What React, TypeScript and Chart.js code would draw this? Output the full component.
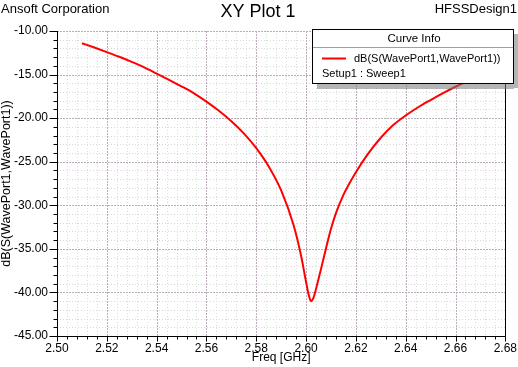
import React, { useEffect, useRef } from 'react';
import { Chart, registerables } from 'chart.js';

Chart.register(...registerables);

// ---- data ----
const freqGHz = [
  2.510, 2.515, 2.520, 2.525, 2.530, 2.535, 2.540, 2.545, 2.550, 2.555,
  2.560, 2.565, 2.570, 2.575, 2.580, 2.585, 2.590, 2.595, 2.598, 2.600,
  2.601, 2.602, 2.603, 2.604, 2.606, 2.608, 2.610, 2.612, 2.615, 2.620,
  2.625, 2.630, 2.635, 2.640, 2.645, 2.650, 2.655, 2.660, 2.665, 2.670,
];
const dbS11 = [
  -11.4, -11.9, -12.42, -12.96, -13.55, -14.18, -14.88, -15.6, -16.35, -17.15,
  -18.1, -19.15, -20.35, -21.75, -23.45, -25.55, -28.3, -32.3, -35.8, -38.8,
  -40.2, -41.0, -40.6, -39.6, -37.3, -34.95, -32.7, -30.9, -28.8, -26.2,
  -24.05, -22.25, -20.8, -19.7, -18.75, -17.92, -17.13, -16.4, -15.72, -15.08,
];

const xMajorLabels = ['2.50', '2.52', '2.54', '2.56', '2.58', '2.60', '2.62', '2.64', '2.66', '2.68'];
const yMajorLabels = ['-45.00', '-40.00', '-35.00', '-30.00', '-25.00', '-20.00', '-15.00', '-10.00'];
const xMin = 2.5;
const xMax = 2.68;
const yMin = -45;
const yMax = -10;
const xMinorStep = 0.004;
const yMinorStep = 1;
const minorPerMajor = 5;

const seriesName = 'dB(S(WavePort1,WavePort1))';
const setupName = 'Setup1 : Sweep1';
const xTitle = 'Freq [GHz]';
const yTitle = 'dB(S(WavePort1,WavePort1))';
const titleLeft = 'Ansoft Corporation';
const titleCenter = 'XY Plot 1';
const titleRight = 'HFSSDesign1';

const FONT = '"Liberation Sans", Arial, sans-serif';

const hfssPlugin = {
  id: 'hfssDecor',
  beforeDatasetsDraw(chart: any) {
    const { ctx, chartArea: a, scales } = chart;
    const x = scales.x;
    const y = scales.y;
    ctx.save();
    ctx.lineWidth = 1;
    const vline = (px: number, color: string, dash: number[]) => {
      ctx.strokeStyle = color;
      ctx.setLineDash(dash);
      ctx.beginPath();
      ctx.moveTo(px, a.top);
      ctx.lineTo(px, a.bottom);
      ctx.stroke();
    };
    const hline = (py: number, color: string, dash: number[]) => {
      ctx.strokeStyle = color;
      ctx.setLineDash(dash);
      ctx.beginPath();
      ctx.moveTo(a.left, py);
      ctx.lineTo(a.right, py);
      ctx.stroke();
    };
    // minor grid
    x.ticks.forEach((t: any, i: number) => {
      if (i % minorPerMajor !== 0) vline(Math.round(x.getPixelForValue(t.value)) + 0.5, 'rgb(214,224,214)', [1, 2]);
    });
    y.ticks.forEach((t: any, i: number) => {
      if (i % minorPerMajor !== 0) hline(Math.round(y.getPixelForValue(t.value)) + 0.5, 'rgb(224,212,224)', [1, 2]);
    });
    // major grid
    x.ticks.forEach((t: any, i: number) => {
      if (i % minorPerMajor === 0) vline(Math.round(x.getPixelForValue(t.value)) + 0.5, 'rgb(186,174,186)', [2, 1]);
    });
    y.ticks.forEach((t: any, i: number) => {
      if (i % minorPerMajor === 0) hline(Math.round(y.getPixelForValue(t.value)) + 0.5, 'rgb(186,174,186)', [2, 1]);
    });
    // axes frame (left, bottom, right)
    ctx.setLineDash([]);
    ctx.strokeStyle = '#000';
    const L = Math.round(a.left) + 0.5;
    const R = Math.round(a.right) + 0.5;
    const B = Math.round(a.bottom) + 0.5;
    const T = Math.round(a.top);
    ctx.beginPath();
    ctx.moveTo(L, T);
    ctx.lineTo(L, B);
    ctx.lineTo(R, B);
    ctx.lineTo(R, T);
    ctx.stroke();
    // tick marks
    ctx.beginPath();
    y.ticks.forEach((t: any, i: number) => {
      const py = Math.round(y.getPixelForValue(t.value)) + 0.5;
      const len = i % minorPerMajor === 0 ? 8 : 4;
      ctx.moveTo(L - len, py);
      ctx.lineTo(L, py);
    });
    x.ticks.forEach((t: any, i: number) => {
      const px = Math.round(x.getPixelForValue(t.value)) + 0.5;
      const len = i % minorPerMajor === 0 ? 5 : 3;
      ctx.moveTo(px, B);
      ctx.lineTo(px, B + len);
    });
    ctx.stroke();
    ctx.restore();
  },
  afterDraw(chart: any) {
    const { ctx, chartArea: a } = chart;
    ctx.save();
    ctx.fillStyle = '#000';
    // header
    ctx.textBaseline = 'alphabetic';
    ctx.font = `13px ${FONT}`;
    ctx.textAlign = 'left';
    ctx.fillText(titleLeft, 1, 12.5);
    ctx.textAlign = 'right';
    ctx.fillText(titleRight, 517, 12.5);
    ctx.font = `18px ${FONT}`;
    ctx.textAlign = 'center';
    ctx.fillText(titleCenter, 258, 16.5);
    // axis titles
    ctx.font = `12px ${FONT}`;
    ctx.textBaseline = 'middle';
    ctx.fillText(xTitle, (a.left + a.right) / 2, 358);
    ctx.save();
    ctx.translate(7, (a.top + a.bottom) / 2);
    ctx.rotate(-Math.PI / 2);
    ctx.font = `12.5px ${FONT}`;
    ctx.fillText(yTitle, 0, 0);
    ctx.restore();
    // legend
    const bx = 312, by = 29, bw = 201, bh = 54;
    ctx.fillStyle = 'rgba(120,120,120,0.55)';
    ctx.fillRect(bx + bw + 1, by + 5, 5, bh);
    ctx.fillRect(bx + 5, by + bh + 1, bw - 4, 5);
    ctx.fillStyle = '#fff';
    ctx.fillRect(bx, by, bw, bh);
    ctx.strokeStyle = '#000';
    ctx.lineWidth = 1;
    ctx.strokeRect(bx + 0.5, by + 0.5, bw, bh);
    ctx.strokeStyle = 'rgb(160,160,160)';
    ctx.beginPath();
    ctx.moveTo(bx + 1, 47.5);
    ctx.lineTo(bx + bw, 47.5);
    ctx.stroke();
    ctx.fillStyle = '#000';
    ctx.font = `11.5px ${FONT}`;
    ctx.textAlign = 'center';
    ctx.fillText('Curve Info', 414, 39);
    ctx.strokeStyle = '#ff0000';
    ctx.lineWidth = 2;
    ctx.beginPath();
    ctx.moveTo(322, 58.5);
    ctx.lineTo(346, 58.5);
    ctx.stroke();
    ctx.font = `11px ${FONT}`;
    ctx.textAlign = 'left';
    ctx.fillText(seriesName, 354, 58.5);
    ctx.fillText(setupName, 322, 74);
    ctx.restore();
  },
};

export default function App() {
  const canvasRef = useRef<HTMLCanvasElement | null>(null);

  useEffect(() => {
    document.body.style.margin = '0';
    const canvas = canvasRef.current;
    if (!canvas) return;
    const points = freqGHz.map((f, i) => ({ x: f, y: dbS11[i] }));
    const chart = new Chart(canvas, {
      type: 'line',
      data: {
        datasets: [
          {
            label: seriesName,
            data: points,
            borderColor: '#ff0000',
            borderWidth: 2,
            pointRadius: 0,
            fill: false,
            cubicInterpolationMode: 'monotone',
          },
        ],
      },
      options: {
        responsive: false,
        animation: false,
        devicePixelRatio: 1,
        layout: { padding: { top: 31, right: 11, left: 0, bottom: 0 } },
        plugins: { legend: { display: false }, tooltip: { enabled: false }, title: { display: false } },
        scales: {
          x: {
            type: 'linear',
            min: xMin,
            max: xMax,
            afterBuildTicks: (scale: any) => {
              const n = Math.round((xMax - xMin) / xMinorStep);
              const ticks = [];
              for (let i = 0; i <= n; i++) ticks.push({ value: xMin + i * xMinorStep });
              scale.ticks = ticks;
            },
            afterFit: (scale: any) => {
              scale.height = 31;
            },
            grid: { display: false, drawTicks: true, tickLength: 4 },
            border: { display: false },
            ticks: {
              autoSkip: false,
              maxRotation: 0,
              padding: 1,
              color: '#000',
              font: { family: FONT, size: 12 },
              callback: (_v: any, i: number) => (i % minorPerMajor === 0 ? xMajorLabels[i / minorPerMajor] : ''),
            },
          },
          y: {
            type: 'linear',
            min: yMin,
            max: yMax,
            afterBuildTicks: (scale: any) => {
              const n = Math.round((yMax - yMin) / yMinorStep);
              const ticks = [];
              for (let i = 0; i <= n; i++) ticks.push({ value: yMin + i * yMinorStep });
              scale.ticks = ticks;
            },
            afterFit: (scale: any) => {
              scale.width = 57;
            },
            grid: { display: false, drawTicks: true, tickLength: 8 },
            border: { display: false },
            ticks: {
              autoSkip: false,
              padding: 1,
              color: '#000',
              font: { family: FONT, size: 12 },
              callback: (_v: any, i: number) => (i % minorPerMajor === 0 ? yMajorLabels[i / minorPerMajor] : ''),
            },
          },
        },
      },
      plugins: [hfssPlugin],
    } as any);
    return () => chart.destroy();
  }, []);

  return (
    <div style={{ width: 518, height: 367 }}>
      <canvas ref={canvasRef} width={518} height={367} style={{ display: 'block' }} />
    </div>
  );
}
